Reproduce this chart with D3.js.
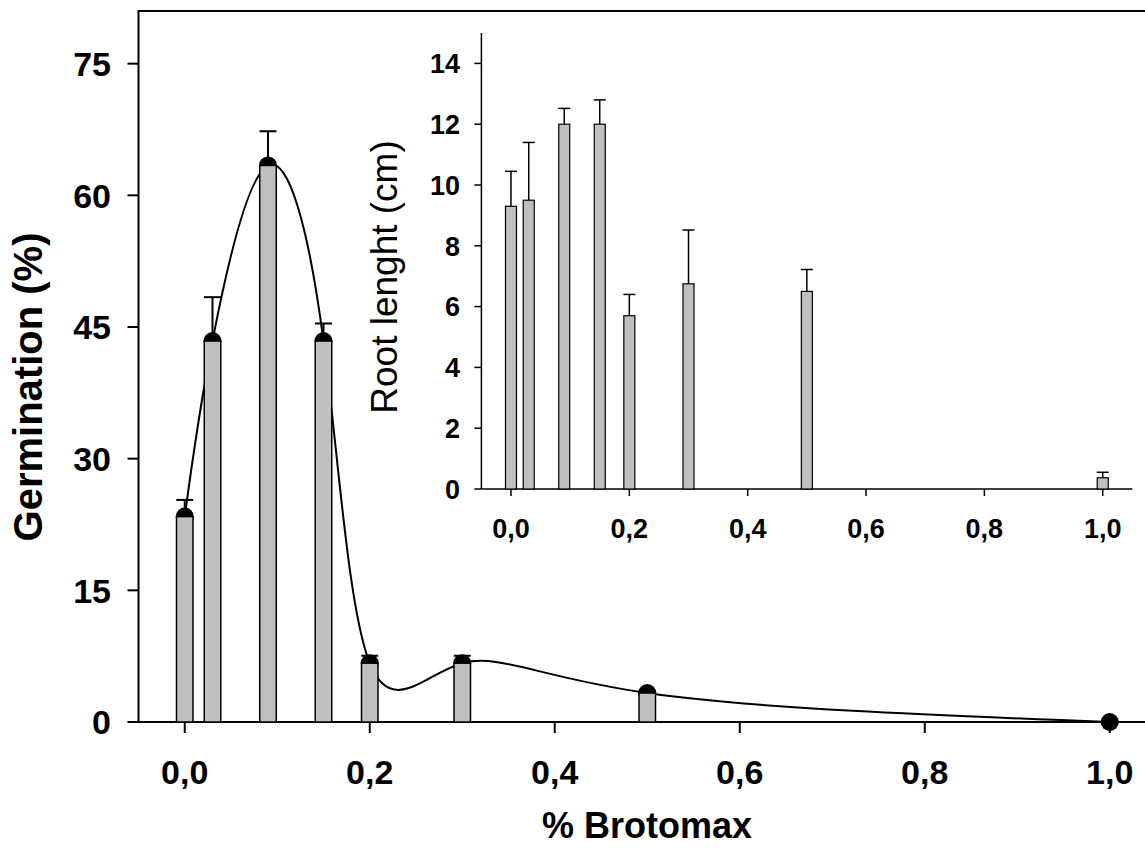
<!DOCTYPE html>
<html>
<head>
<meta charset="utf-8">
<script src="https://cdn.jsdelivr.net/npm/d3@7"></script>
<style>
  html, body { margin: 0; padding: 0; background: #fff; }
  svg { display: block; font-family: "Liberation Sans", Arial, sans-serif; }
</style>
</head>
<body>
<svg id="chart" width="1145" height="851"></svg>
<script>
// ---- data ----
const doses       = [0, 0.03, 0.09, 0.15, 0.2, 0.3, 0.5, 1.0];
const germination = [23.4, 43.4, 63.4, 43.4, 6.7, 6.7, 3.3, 0];
const germErr     = [1.9, 5.0, 3.9, 2.0, 0.85, 0.85, 0, 0];
const rootLength  = [9.3, 9.5, 12.0, 12.0, 5.7, 6.75, 6.5, 0.37];
const rootErr     = [1.15, 1.9, 0.52, 0.8, 0.7, 1.77, 0.72, 0.18];
const xTicks      = [0, 0.2, 0.4, 0.6, 0.8, 1.0];
const germTicks   = [0, 15, 30, 45, 60, 75];
const rootTicks   = [0, 2, 4, 6, 8, 10, 12, 14];

const fmtX = d => d3.format(".1f")(d).replace(".", ",");

const svg = d3.select("#chart");
const bold = "bold";

// ---- main chart ----
const x = d3.scaleLinear().domain([-0.05, 1.05]).range([138.5, 1156]);
const y = d3.scaleLinear().domain([0, 81]).range([722, 11]);

const main = svg.append("g");

// frame
main.append("rect")
    .attr("x", x(-0.05)).attr("y", y(81))
    .attr("width", x(1.05) - x(-0.05)).attr("height", y(0) - y(81))
    .attr("fill", "none").attr("stroke", "#000").attr("stroke-width", 2);

// y ticks (outward)
main.selectAll(".ytick").data(germTicks).enter().append("line")
    .attr("x1", x(-0.05) - 11).attr("x2", x(-0.05))
    .attr("y1", d => y(d)).attr("y2", d => y(d))
    .attr("stroke", "#000").attr("stroke-width", 2);
main.selectAll(".ylab").data(germTicks).enter().append("text")
    .attr("x", 111).attr("y", d => y(d)).attr("dy", "0.36em")
    .attr("text-anchor", "end")
    .style("font-size", "34px").style("font-weight", bold)
    .text(d => d);

// x ticks
main.selectAll(".xtick").data(xTicks).enter().append("line")
    .attr("x1", d => x(d)).attr("x2", d => x(d))
    .attr("y1", y(0)).attr("y2", y(0) + 11)
    .attr("stroke", "#000").attr("stroke-width", 2);
main.selectAll(".xlab").data(xTicks).enter().append("text")
    .attr("x", d => x(d)).attr("y", 784)
    .attr("text-anchor", "middle")
    .style("font-size", "34px").style("font-weight", bold)
    .text(fmtX);

// axis titles
main.append("text")
    .attr("transform", `translate(42, 387) rotate(-90)`)
    .attr("text-anchor", "middle")
    .style("font-size", "40px").style("font-weight", bold)
    .text("Germination (%)");
main.append("text")
    .attr("x", 647).attr("y", 838)
    .attr("text-anchor", "middle")
    .style("font-size", "36px").style("font-weight", bold)
    .text("% Brotomax");

const germData = doses.map((d, i) => ({ x: d, v: germination[i], e: germErr[i] }));

// fitted spline
main.append("path")
    .datum(germData)
    .attr("d", d3.line().x(d => x(d.x)).y(d => y(d.v)).curve(d3.curveNatural))
    .attr("fill", "none").attr("stroke", "#000").attr("stroke-width", 2);

// dots
main.selectAll(".dot").data(germData).enter().append("circle")
    .attr("cx", d => x(d.x)).attr("cy", d => y(d.v)).attr("r", 9)
    .attr("fill", "#000");

// error bars
const gErr = main.selectAll(".gerr").data(germData.filter(d => d.e > 0)).enter().append("g");
gErr.append("line")
    .attr("x1", d => x(d.x)).attr("x2", d => x(d.x))
    .attr("y1", d => y(d.v)).attr("y2", d => y(d.v + d.e))
    .attr("stroke", "#000").attr("stroke-width", 2);
gErr.append("line")
    .attr("x1", d => x(d.x) - 8.5).attr("x2", d => x(d.x) + 8.5)
    .attr("y1", d => y(d.v + d.e)).attr("y2", d => y(d.v + d.e))
    .attr("stroke", "#000").attr("stroke-width", 2);

// bars
const barW = 16.5;
main.selectAll(".bar").data(germData.filter(d => d.v > 0)).enter().append("rect")
    .attr("x", d => x(d.x) - barW / 2).attr("y", d => y(d.v))
    .attr("width", barW).attr("height", d => y(0) - y(d.v))
    .attr("fill", "#c0c0c0").attr("stroke", "#000").attr("stroke-width", 1.5);

// ---- inset chart ----
const xi = d3.scaleLinear().domain([-0.05, 1.05]).range([481.4, 1132.3]);
const yi = d3.scaleLinear().domain([0, 15]).range([489, 33]);
const inset = svg.append("g");

inset.append("line")
    .attr("x1", xi(-0.05)).attr("x2", xi(-0.05)).attr("y1", yi(15)).attr("y2", yi(0))
    .attr("stroke", "#000").attr("stroke-width", 1.5);
inset.append("line")
    .attr("x1", xi(-0.05)).attr("x2", xi(1.05)).attr("y1", yi(0)).attr("y2", yi(0))
    .attr("stroke", "#000").attr("stroke-width", 1.5);

inset.selectAll(".ytick").data(rootTicks).enter().append("line")
    .attr("x1", xi(-0.05) - 7).attr("x2", xi(-0.05))
    .attr("y1", d => yi(d)).attr("y2", d => yi(d))
    .attr("stroke", "#000").attr("stroke-width", 1.5);
inset.selectAll(".ylab").data(rootTicks).enter().append("text")
    .attr("x", 460).attr("y", d => yi(d)).attr("dy", "0.36em")
    .attr("text-anchor", "end")
    .style("font-size", "27px").style("font-weight", bold)
    .text(d => d);

inset.selectAll(".xtick").data(xTicks).enter().append("line")
    .attr("x1", d => xi(d)).attr("x2", d => xi(d))
    .attr("y1", yi(0)).attr("y2", yi(0) + 7)
    .attr("stroke", "#000").attr("stroke-width", 1.5);
inset.selectAll(".xlab").data(xTicks).enter().append("text")
    .attr("x", d => xi(d)).attr("y", 538)
    .attr("text-anchor", "middle")
    .style("font-size", "27px").style("font-weight", bold)
    .text(fmtX);

inset.append("text")
    .attr("transform", `translate(397, 277) rotate(-90)`)
    .attr("text-anchor", "middle")
    .style("font-size", "37px")
    .text("Root lenght (cm)");

const rootData = doses.map((d, i) => ({ x: d, v: rootLength[i], e: rootErr[i] }));

const rErr = inset.selectAll(".rerr").data(rootData).enter().append("g");
rErr.append("line")
    .attr("x1", d => xi(d.x)).attr("x2", d => xi(d.x))
    .attr("y1", d => yi(d.v)).attr("y2", d => yi(d.v + d.e))
    .attr("stroke", "#000").attr("stroke-width", 1.5);
rErr.append("line")
    .attr("x1", d => xi(d.x) - 6).attr("x2", d => xi(d.x) + 6)
    .attr("y1", d => yi(d.v + d.e)).attr("y2", d => yi(d.v + d.e))
    .attr("stroke", "#000").attr("stroke-width", 1.5);

const barWi = 11;
inset.selectAll(".bar").data(rootData).enter().append("rect")
    .attr("x", d => xi(d.x) - barWi / 2).attr("y", d => yi(d.v))
    .attr("width", barWi).attr("height", d => yi(0) - yi(d.v))
    .attr("fill", "#c0c0c0").attr("stroke", "#000").attr("stroke-width", 1.2);
</script>
</body>
</html>
